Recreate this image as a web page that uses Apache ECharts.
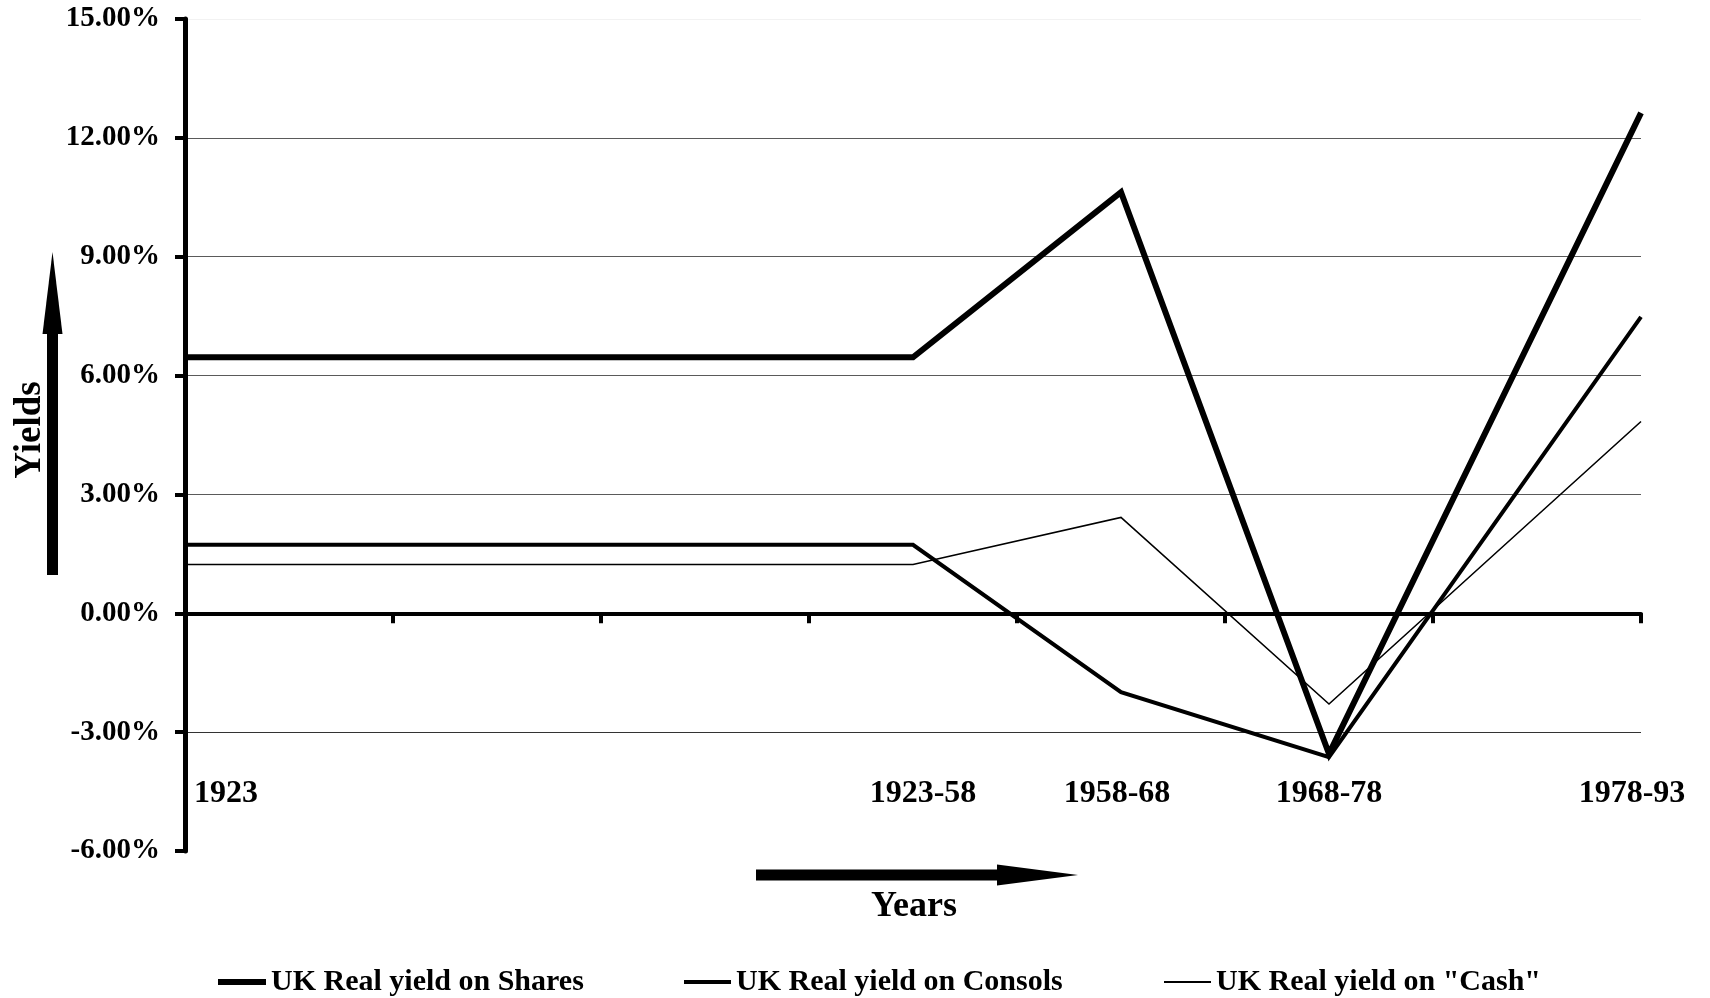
<!DOCTYPE html>
<html>
<head>
<meta charset="utf-8">
<title>UK Real Yields</title>
<script src="https://cdn.jsdelivr.net/npm/echarts@6/dist/echarts.min.js"></script>
<style>
  html, body { margin: 0; padding: 0; background: #ffffff; }
  #chart { width: 1710px; height: 998px; }
</style>
</head>
<body>
<div id="chart"></div>
<script>
// Periods and their positions along the horizontal scale (0..7)
const categories = ['1923', '1923-58', '1958-68', '1968-78', '1978-93'];
const periodPositions = [0, 3.5, 4.5, 5.5, 7];

// Real yields, percent
const sharesYield = [6.46, 6.46, 10.63, -3.55, 12.63];
const consolsYield = [1.73, 1.73, -1.99, -3.63, 7.48];
const cashYield = [1.23, 1.23, 2.42, -2.29, 4.84];

const seriesNames = ['UK Real yield on Shares', 'UK Real yield on Consols', 'UK Real yield on "Cash"'];

const FONT = '"Liberation Serif", "Times New Roman", serif';

function toPoints(values) {
  return values.map((v, i) => [periodPositions[i], v]);
}

const chart = echarts.init(document.getElementById('chart'), null, { renderer: 'canvas' });

const labelFont = { fontSize: 32, fontWeight: 'bold', fontFamily: FONT, color: '#000' };
const legendText = { fontSize: 30, fontWeight: 'bold', fontFamily: FONT, color: '#000' };
const hiddenSymbol = { color: 'rgba(0,0,0,0)', borderWidth: 0, opacity: 0 };

const option = {
  backgroundColor: '#ffffff',
  animation: false,
  grid: [
    { left: 185, right: 69, top: 19, bottom: 147, containLabel: false, outerBoundsMode: 'none' },
    { left: 185, right: 69, top: 19, bottom: 224, containLabel: false, outerBoundsMode: 'none' }
  ],
  xAxis: [
    {
      type: 'value', gridIndex: 0, min: 0, max: 7, interval: 1,
      axisLine: { show: true, onZero: true, lineStyle: { color: '#000', width: 4 } },
      axisTick: { show: true, length: 10, lineStyle: { color: '#000', width: 4 } },
      axisLabel: { show: false },
      splitLine: { show: false }
    },
    {
      // period names along the lower part of the plot
      type: 'value', gridIndex: 1, min: 0, max: 7, interval: 0.5,
      axisLine: { show: false },
      axisTick: { show: false },
      splitLine: { show: false },
      axisLabel: {
        show: true, margin: 4, ...labelFont,
        formatter: function (v) {
          const i = periodPositions.findIndex(p => Math.abs(p - v) < 1e-6);
          return i < 0 ? '' : '{c' + i + '|' + categories[i] + '}';
        },
        rich: {
          c0: { ...labelFont, padding: [0, 0, 0, 82] },
          c1: { ...labelFont, padding: [0, 0, 0, 20] },
          c2: { ...labelFont, padding: [0, 8, 0, 0] },
          c3: { ...labelFont },
          c4: { ...labelFont, padding: [0, 18, 0, 0] }
        }
      }
    }
  ],
  yAxis: [
    {
      type: 'value', gridIndex: 0, min: -6, max: 15, interval: 3,
      axisLine: { show: true, lineStyle: { color: '#000', width: 5 } },
      axisTick: { show: true, length: 10, lineStyle: { color: '#000', width: 4 } },
      axisLabel: {
        margin: 25, fontSize: 29, fontWeight: 'bold', fontFamily: FONT, color: '#000',
        formatter: v => v.toFixed(2) + '%'
      },
      splitLine: {
        show: true,
        lineStyle: {
          width: 1,
          color: ['rgba(0,0,0,0)', '#333', '#333', '#5a5a5a', '#5a5a5a', '#5a5a5a', '#5a5a5a', '#f2f2f2']
        }
      }
    },
    {
      type: 'value', gridIndex: 1, min: 0, max: 1, show: false
    }
  ],
  legend: [
    {
      data: [seriesNames[0]], left: 210, top: 962, itemWidth: 48, itemHeight: 14, itemGap: 0,
      lineStyle: { width: 6, color: '#000' }, itemStyle: hiddenSymbol,
      textStyle: legendText, selectedMode: false
    },
    {
      data: [seriesNames[1]], left: 677, top: 962, itemWidth: 47, itemHeight: 14, itemGap: 0,
      lineStyle: { width: 4, color: '#000' }, itemStyle: hiddenSymbol,
      textStyle: legendText, selectedMode: false
    },
    {
      data: [seriesNames[2]], left: 1158, top: 962, itemWidth: 47, itemHeight: 14, itemGap: 0,
      lineStyle: { width: 2, color: '#000' }, itemStyle: hiddenSymbol,
      textStyle: legendText, selectedMode: false
    }
  ],
  series: [
    {
      name: seriesNames[0], type: 'line', xAxisIndex: 0, yAxisIndex: 0,
      data: toPoints(sharesYield), symbol: 'none', showSymbol: false,
      lineStyle: { color: '#000', width: 6, join: 'miter', cap: 'butt' },
      itemStyle: { color: '#000' }, z: 3
    },
    {
      name: seriesNames[1], type: 'line', xAxisIndex: 0, yAxisIndex: 0,
      data: toPoints(consolsYield), symbol: 'none', showSymbol: false,
      lineStyle: { color: '#000', width: 4, join: 'miter', cap: 'butt' },
      itemStyle: { color: '#000' }, z: 4
    },
    {
      name: seriesNames[2], type: 'line', xAxisIndex: 0, yAxisIndex: 0,
      data: toPoints(cashYield), symbol: 'none', showSymbol: false,
      lineStyle: { color: '#000', width: 1.6, join: 'miter', cap: 'butt' },
      itemStyle: { color: '#000' }, z: 5
    }
  ],
  graphic: [
    // vertical "Yields" arrow
    { type: 'rect', shape: { x: 47, y: 333, width: 11, height: 242 }, style: { fill: '#000' } },
    { type: 'polygon', shape: { points: [[42.5, 334], [62.5, 334], [52.5, 252]] }, style: { fill: '#000' } },
    {
      type: 'text', x: 30, y: 430, rotation: Math.PI / 2,
      style: { text: 'Yields', x: 0, y: 0, align: 'center', verticalAlign: 'middle',
        fontSize: 37, fontWeight: 'bold', fontFamily: FONT, fill: '#000' }
    },
    // horizontal "Years" arrow
    { type: 'rect', shape: { x: 756, y: 869.5, width: 242, height: 11 }, style: { fill: '#000' } },
    { type: 'polygon', shape: { points: [[997, 864.5], [997, 885.5], [1078, 875]] }, style: { fill: '#000' } },
    {
      type: 'text', x: 914, y: 907,
      style: { text: 'Years', x: 0, y: 0, align: 'center', verticalAlign: 'middle',
        fontSize: 36, fontWeight: 'bold', fontFamily: FONT, fill: '#000' }
    }
  ]
};

chart.setOption(option);
</script>
</body>
</html>
